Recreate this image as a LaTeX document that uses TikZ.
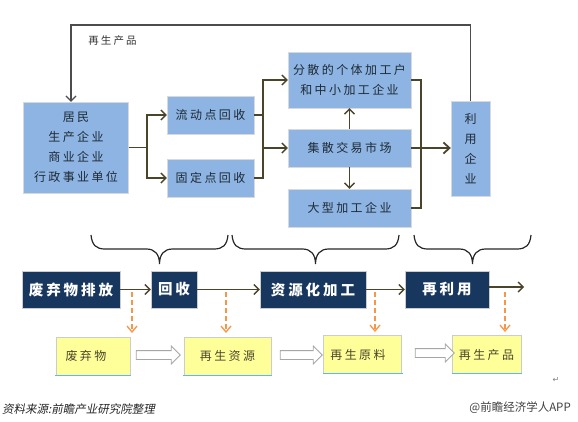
\documentclass[tikz,border=0pt]{standalone}
\usepackage{xcolor}
\usepackage{fontspec}
\setmainfont{Noto Sans CJK SC}[LetterSpace=20]
\newfontfamily\plainfnt{Noto Sans CJK SC}
\newfontfamily\slantfnt{Noto Sans CJK SC}[FakeSlant=0.2]
\newfontfamily\symfnt{DejaVu Sans}
\usetikzlibrary{arrows.meta,shapes.arrows}
\definecolor{bluec}{HTML}{8DB4E2}
\definecolor{navyc}{HTML}{17375E}
\definecolor{yelc}{HTML}{FFFF99}
\definecolor{olivec}{HTML}{4A452A}
\definecolor{orangec}{HTML}{F79646}
\definecolor{linec}{HTML}{5BB8F0}
\definecolor{inkc}{HTML}{1F2A36}
\tikzset{
  ar/.style={-{Straight Barb[length=5pt,width=10pt]},line width=1.4pt,olivec},
  ln/.style={line width=1.4pt,olivec},
  dar/.style={-{Straight Barb[length=6pt,width=10pt]},line width=1.3pt,orangec,dash pattern=on 5pt off 3pt},
  brc/.style={line width=1.2pt,black!85},
  bbox/.style={draw=gray!30,fill=bluec,inner sep=0pt,align=center,text=inkc,font=\fontsize{12}{20}\selectfont},
  nbox/.style={draw=gray!40,fill=navyc,inner sep=0pt,text=white,minimum height=37pt,font=\fontsize{14.5}{16}\selectfont\bfseries},
  ybox/.style={draw=gray!40,fill=yelc,inner sep=0pt,text=olivec,minimum height=38pt,font=\fontsize{12}{16}\selectfont},
  holl/.style={single arrow,draw=gray!70,fill=white,line width=0.8pt,inner sep=4pt,minimum width=17pt,
    single arrow head extend=4.5pt,single arrow head indent=0pt}
}
\begin{document}
\begin{tikzpicture}[x=1pt,y=-1pt]
\useasboundingbox (0,0) rectangle (578,421);
% upper flow
\node[bbox,minimum width=105pt,minimum height=91pt] (jumin) at (76,147.5) {居民\\生产企业\\商业企业\\行政事业单位};
\node[bbox,minimum width=87pt,minimum height=38pt] (liudong) at (210.5,115) {流动点回收};
\node[bbox,minimum width=87pt,minimum height=38pt] (guding) at (210.5,178) {固定点回收};
\node[bbox,minimum width=123pt,minimum height=56pt] (fensan) at (349.5,80) {分散的个体加工户\\和中小加工企业};
\node[bbox,minimum width=123pt,minimum height=38pt] (jisan) at (349.5,148) {集散交易市场};
\node[bbox,minimum width=123pt,minimum height=38pt] (daxing) at (349.5,208) {大型加工企业};
\node[bbox,minimum width=39pt,minimum height=95pt] (liyong) at (470.5,148.5) {利\\用\\企\\业};
\node[inner sep=0pt,text=black!80,font=\fontsize{10.5}{12}\selectfont] (zaisheng) at (112.5,41) {再生产品};
\coordinate (fb) at (71,25);
\coordinate (ja) at (147,147.5);
\coordinate (jb) at (263,148);
\coordinate (jc) at (421,148);
\draw[-{Straight Barb[length=5pt,width=10pt]},line width=1.2pt,black!70] (liyong.north) |- (fb) -- (fb |- jumin.north);
\draw[ln] (jumin.east |- ja) -- (ja);
\draw[ar] (ja) |- (liudong.west);
\draw[ar] (ja) |- (guding.west);
\draw[ln] (liudong.east) -| (jb);
\draw[ln] (guding.east) -| (jb);
\draw[ar] (jb) |- (fensan.west);
\draw[ar] (jb) -- (jisan.west);
\draw[ar] (jisan.north) -- (fensan.south);
\draw[ar] (jisan.south) -- (daxing.north);
\draw[ln] (fensan.east) -| (jc);
\draw[ln] (daxing.east) -| (jc);
\draw[-{Straight Barb[length=6pt,width=11pt]},line width=1.8pt,olivec] (jisan.east) -- (liyong.west |- jisan.east);
% braces
\foreach \xa/\xm/\xb in {91/159.5/228,232/315.5/399,414/472.5/531}
  \draw[brc] (\xa,235) .. controls (\xa+1,245) and (\xa+5,249) .. (\xa+14,249) -- (\xm-13,249)
    .. controls (\xm-5,249) and (\xm,254) .. (\xm,264) .. controls (\xm,254) and (\xm+5,249) .. (\xm+13,249)
    -- (\xb-14,249) .. controls (\xb-5,249) and (\xb-1,245) .. (\xb,235);
% stage row
\node[nbox,minimum width=98pt] (paifang) at (71,289.5) {废弃物排放};
\node[nbox,minimum width=46pt] (huishou) at (174,289.5) {回收};
\node[nbox,minimum width=106pt] (jiagong) at (313,289.5) {资源化加工};
\node[nbox,minimum width=84pt] (zaili) at (447,289.5) {再利用};
\coordinate (endp) at (524,287);
\draw[ar] (paifang) -- (huishou);
\draw[ar] (huishou) -- (jiagong);
\draw[ar] (jiagong) -- (zaili);
\draw[ar] (zaili.east |- endp) -- (endp);
% product row
\node[ybox,minimum width=74pt] (feiqi) at (93,356) {废弃物\rule{14pt}{0pt}};
\node[ybox,minimum width=87pt] (ziyuan) at (227.5,356) {再生资源};
\node[ybox,minimum width=78pt] (yuanliao) at (362,354.5) {再生原料\rule{8pt}{0pt}};
\node[ybox,minimum width=69pt] (chanpin) at (486.5,354.5) {再生产品};
\foreach \n/\xa/\xb in {feiqi/55/131,ziyuan/183/272,yuanliao/323/403,chanpin/452/522}
  \draw[linec,line width=1.2pt] (\xa,0 |- \n.south) -- (\xb,0 |- \n.south);
\coordinate (da) at (132,292);
\coordinate (db) at (226,292);
\coordinate (dc) at (375,292);
\coordinate (dd) at (505,292);
\coordinate (dae) at (132,333);
\coordinate (dbe) at (226,333);
\coordinate (dce) at (375,332);
\coordinate (dde) at (505,332);
\draw[dar] (da) -- (dae);
\draw[dar] (db) -- (dbe);
\draw[dar] (dc) -- (dce);
\draw[dar] (dd) -- (dde);
\node[holl,minimum height=44pt] (ha) at (156,355) {};
\node[holl,minimum height=42pt] (hb) at (299,355) {};
\node[holl,minimum height=39pt] (hc) at (432.5,353) {};
% source line
\node[anchor=west,inner sep=0pt,text=black!85,font=\slantfnt\fontsize{11.5}{12}\selectfont] (ziliao) at (2,409) {资料来源:前瞻产业研究院整理};
\node[anchor=east,inner sep=0pt,text=black!75,font=\plainfnt\fontsize{11.5}{12}\selectfont] (qianzhan) at (571,408) {@前瞻经济学人APP};
\node[inner sep=0pt,text=gray,font=\symfnt\fontsize{8}{8}\selectfont] (ret) at (556,380) {↵};
\end{tikzpicture}
\end{document}
